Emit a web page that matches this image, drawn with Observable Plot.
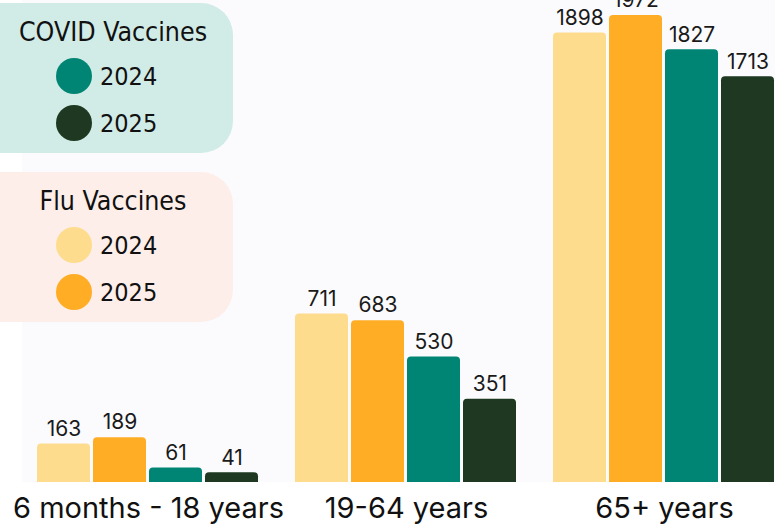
<!DOCTYPE html>
<html>
<head>
<meta charset="utf-8">
<script src="https://cdn.jsdelivr.net/npm/d3@7"></script>
<script src="https://cdn.jsdelivr.net/npm/@observablehq/plot@0.6"></script>
<style>
  html, body { margin: 0; padding: 0; background: #ffffff; overflow: hidden; }
  #wrap { position: relative; width: 775px; height: 526px; overflow: hidden; }
  #bg { position: absolute; left: 22px; top: 0; width: 753px; height: 482px; background: #fbfbfe; }
  #chart { position: absolute; left: 0; top: 0; }
  .legend { position: absolute; left: -40px; width: 273px; height: 150px; border-radius: 32px;
            font-family: "DejaVu Sans Condensed", "DejaVu Sans", sans-serif; font-stretch: condensed; color: #111; }
  .legend .title { position: absolute; top: 13px; left: 0; width: 306px; text-align: center; font-size: 26.5px; }
  .legend .item { position: absolute; left: 96px; height: 38px; display: flex; align-items: center; font-size: 25px; }
  .legend .dot { width: 36px; height: 36px; border-radius: 50%; margin-right: 8px; }
</style>
</head>
<body>
<div id="wrap">
  <div id="bg"></div>
  <div id="chart"></div>
</div>
<script>
const groups = ["6 months - 18 years", "19-64 years", "65+ years"];
const series = ["Flu 2024", "Flu 2025", "COVID 2024", "COVID 2025"];
const flu2024 = [163, 711, 1898];
const flu2025 = [189, 683, 1972];
const covid2024 = [61, 530, 1827];
const covid2025 = [41, 351, 1713];
const colors = ["#fedc8e", "#ffad24", "#008575", "#1e3821"];

const seriesValues = [flu2024, flu2025, covid2024, covid2025];
const data = [];
groups.forEach((g, gi) => {
  series.forEach((s, si) => data.push({group: g, series: s, value: seriesValues[si][gi]}));
});

const chart = Plot.plot({
  width: 775,
  height: 526,
  marginTop: 0,
  marginBottom: 44,
  marginLeft: 35,
  marginRight: -3,
  style: {background: "transparent", overflow: "visible"},
  fx: {domain: groups, paddingInner: 0.131, paddingOuter: 0, axis: null, label: null},
  x: {domain: series, paddingInner: 0.05, paddingOuter: 0, axis: null},
  y: {domain: [0, 2035], axis: null},
  color: {domain: series, range: colors},
  marks: [
    Plot.barY(data, {fx: "group", x: "series", y1: -40, y2: "value", fill: "series", rx: 4, clip: true}),
    Plot.text(data, {fx: "group", x: "series", y: "value", text: d => String(d.value), dy: -15,
      fontSize: 21, fill: "#1a1a1a", fontFamily: "Inter, sans-serif"}),
    Plot.text(groups, {fx: d => d, text: d => d, frameAnchor: "bottom", lineAnchor: "middle", dy: 26,
      fontSize: 29, fill: "#111", fontFamily: "Inter, sans-serif"})
  ]
});
document.getElementById("chart").appendChild(chart);

function legend(title, top, bg, labels, cols) {
  const box = document.createElement("div");
  box.className = "legend";
  box.style.top = top + "px";
  box.style.background = bg;
  const t = document.createElement("div");
  t.className = "title";
  t.textContent = title;
  box.appendChild(t);
  labels.forEach((lab, i) => {
    const it = document.createElement("div");
    it.className = "item";
    it.style.top = (54 + i * 47) + "px";
    const dot = document.createElement("div");
    dot.className = "dot";
    dot.style.background = cols[i];
    const sp = document.createElement("span");
    sp.textContent = lab;
    it.appendChild(dot);
    it.appendChild(sp);
    box.appendChild(it);
  });
  document.getElementById("wrap").appendChild(box);
}
legend("COVID Vaccines", 3, "#d1ebe6", ["2024", "2025"], [colors[2], colors[3]]);
legend("Flu Vaccines", 172, "#fdeee9", ["2024", "2025"], [colors[0], colors[1]]);
</script>
</body>
</html>
